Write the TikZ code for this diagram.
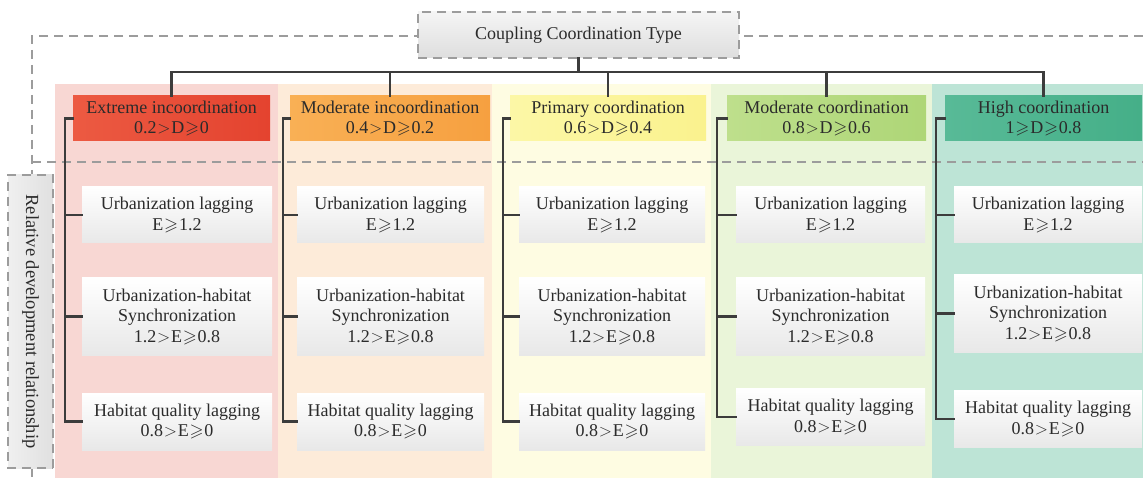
\documentclass[tikz,border=0pt]{standalone}
\usepackage{amssymb}
\usepackage{fontspec}
\setmainfont{Liberation Serif}
\usetikzlibrary{calc}
\definecolor{txt}{HTML}{2B2B2B}
\definecolor{treec}{HTML}{3C3C3C}
\definecolor{dashc}{HTML}{9C9C9C}
\definecolor{bg1}{HTML}{F8D7D3}
\definecolor{bg2}{HTML}{FDEBD9}
\definecolor{bg3}{HTML}{FEFCE2}
\definecolor{bg4}{HTML}{EAF5D9}
\definecolor{bg5}{HTML}{BDE4D6}
\definecolor{hA1}{HTML}{EC5A42}\definecolor{hB1}{HTML}{E4432F}
\definecolor{hA2}{HTML}{F9B055}\definecolor{hB2}{HTML}{F6A040}
\definecolor{hA3}{HTML}{FCF7A6}\definecolor{hB3}{HTML}{FAF28E}
\definecolor{hA4}{HTML}{BEDF8C}\definecolor{hB4}{HTML}{AED677}
\definecolor{hA5}{HTML}{58BA97}\definecolor{hB5}{HTML}{45AF88}
\newcommand{\GE}{\kern0.8pt$\geqslant$\kern0.8pt}
\newcommand{\GT}{\kern0.8pt$>$\kern0.8pt}
\tikzset{
  every node/.style={text=txt, font=\fontsize{18}{20.5}\selectfont, inner sep=0pt, align=center},
  dashbox/.style={draw=dashc, line width=1.2pt, dash pattern=on 9pt off 6pt},
  tree/.style={draw=treec, line width=2.8pt, line cap=rect},
  hdr/.style={minimum height=45pt, left color=hA#1, right color=hB#1},
  kid/.style={minimum height=#1, top color=white, bottom color=black!9},
}
\begin{document}
\begin{tikzpicture}[x=1pt,y=-1pt]
\useasboundingbox (0,0) rectangle (1143,478);
% column backgrounds
\fill[bg1] (55,84) rectangle (278,478);
\fill[bg2] (278,84) rectangle (492,478);
\fill[bg3] (492,84) rectangle (711,478);
\fill[bg4] (711,84) rectangle (932,478);
\fill[bg5] (932,84) rectangle (1143,478);
% dashed frame
\draw[dashbox] (1143,36) -- (32,36) -- (32,175);
\draw[dashbox] (32,162) -- (1143,162);
\draw[dashbox] (32,468) -- (32,478);
% title
\node[dashbox, top color=black!4, bottom color=black!13, minimum width=321pt, minimum height=46pt] (T) at (578.5,35) {Coupling Coordination Type};
% side label
\node[dashbox, left color=black!6, right color=black!12, rotate=-90, minimum width=293pt, minimum height=45pt, font=\fontsize{18.5}{20.5}\selectfont] (L) at (30.5,321.5) {Relative development relationship};
% headers
\node[hdr=1, minimum width=197pt] (h1) at (171.5,118.5) {Extreme incoordination\\0.2\GT D\GE 0};
\node[hdr=2, minimum width=200pt] (h2) at (390,118.5) {Moderate incoordination\\0.4\GT D\GE 0.2};
\node[hdr=3, minimum width=196pt] (h3) at (608,118.5) {Primary coordination\\0.6\GT D\GE 0.4};
\node[hdr=4, minimum width=199pt] (h4) at (826.5,118.5) {Moderate coordination\\0.8\GT D\GE 0.6};
\node[hdr=5, minimum width=197pt] (h5) at (1043.5,118.5) {High coordination\\1\GE D\GE 0.8};
% children
\newcommand{\kids}[6]{%
  \node[kid=56pt, minimum width=#3] (c#11) at (#2,215) {Urbanization lagging\\E\GE 1.2};
  \node[kid=77pt, minimum width=#3] (c#12) at (#2,#4) {Urbanization-habitat\\Synchronization\\1.2\GT E\GE 0.8};
  \node[kid=57pt, minimum width=#3] (c#13) at (#2,#5) {Habitat quality lagging\\0.8\GT E\GE 0};
  \coordinate (v#1) at (#6,0);
}
\kids{1}{177}{190pt}{316.5}{421.5}{65}
\kids{2}{390.5}{187pt}{316.5}{421.5}{283}
\kids{3}{612}{186pt}{316.5}{421.5}{503}
\kids{4}{830.5}{189pt}{316.5}{417}{717}
\kids{5}{1048}{188pt}{313.5}{419}{936}
% top tree
\coordinate (bus) at (579,72);
\draw[tree] (T.south) -- (T.south |- bus);
\draw[tree] (h1.north) -- (h1.north |- bus) -- (h5.north |- bus) -- (h5.north);
\foreach \k in {2,3,4}{\draw[tree] (h\k.north) -- (h\k.north |- bus);}
% column trees
\foreach \k in {1,...,5}{
  \draw[tree] (h\k.west) -- (h\k.west -| v\k) -- (c\k3.west -| v\k) -- (c\k3.west);
  \draw[tree] (c\k1.west -| v\k) -- (c\k1.west);
  \draw[tree] (c\k2.west -| v\k) -- (c\k2.west);
}
\end{tikzpicture}
\end{document}
